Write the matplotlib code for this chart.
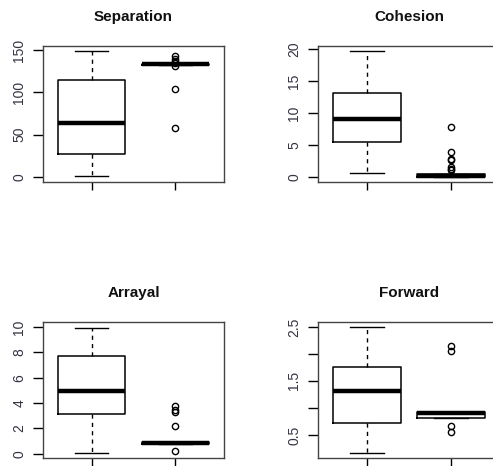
import matplotlib.pyplot as plt
import numpy as np

plt.rcParams['font.family'] = ['Liberation Sans', 'DejaVu Sans']

# titulos de cada panel
titulos = ["Separation", "Cohesion", "Arrayal", "Forward"]

# estadisticos: [grupo1, grupo2]
q1 = [[27, 133], [5.5, 0.05], [3.13, 0.78], [0.72, 0.82]]
mediana = [[63.5, 133.5], [9.05, 0.25], [4.97, 0.85], [1.31, 0.9]]
q3 = [[115, 134], [13.2, 0.45], [7.68, 0.92], [1.75, 0.93]]
bigote_bajo = [[0.8, 133], [0.7, 0.05], [0.05, 0.78], [0.17, 0.82]]
bigote_alto = [[148.8, 134], [19.7, 0.45], [9.9, 0.92], [2.49, 0.93]]
atipicos = [
    [[], [143, 140, 137, 135, 131, 104.5, 58.5]],
    [[], [7.8, 3.9, 2.9, 2.7, 1.6, 1.3, 1.1]],
    [[], [3.73, 3.42, 3.28, 2.2, 0.18]],
    [[], [2.15, 2.06, 0.67, 0.55]],
]

# ticks del eje y
yticks = [[0, 50, 100, 150], [0, 5, 10, 15, 20], [0, 2, 4, 6, 8, 10], [0.5, 1.0, 1.5, 2.0, 2.5]]
yticklabels = [["0", "50", "100", "150"], ["0", "5", "10", "15", "20"],
               ["0", "2", "4", "6", "8", "10"], ["0.5", "", "1.5", "", "2.5"]]
ylims = [(-6, 155), (-0.75, 20.5), (-0.34, 10.4), (0.074, 2.59)]

W, H = 493, 466
fig = plt.figure(figsize=(W / 100, H / 100), dpi=100)

# posiciones en pixeles (izq, arriba, der, abajo)
cajas = [(43, 46, 224, 182), (318, 46, 500, 182), (43, 322, 224, 458), (318, 322, 500, 458)]

colorTexto = "#333344"

for i in range(4):
    x0, y0, x1, y1 = cajas[i]
    ax = fig.add_axes([x0 / W, 1 - y1 / H, (x1 - x0) / W, (y1 - y0) / H])
    stats = []
    for g in range(2):
        stats.append({
            "q1": q1[i][g], "med": mediana[i][g], "q3": q3[i][g],
            "whislo": bigote_bajo[i][g], "whishi": bigote_alto[i][g],
            "fliers": atipicos[i][g],
        })
    ax.bxp(stats, positions=[1, 2], widths=0.8, capwidths=0.4,
           boxprops=dict(color="black", lw=1.1),
           medianprops=dict(color="black", lw=3.2, solid_capstyle="butt"),
           whiskerprops=dict(color="black", lw=1, linestyle=(0, (3, 3))),
           capprops=dict(color="black", lw=1),
           flierprops=dict(marker="o", mfc="none", mec="black", ms=4.5, mew=1))
    ax.set_xlim(0.42, 2.58)
    ax.set_ylim(*ylims[i])
    ax.set_xticks([1, 2])
    ax.set_xticklabels(["", ""])
    ax.set_yticks(yticks[i])
    ax.set_yticklabels(yticklabels[i])
    ax.tick_params(axis="y", length=7, width=1, pad=5, labelrotation=90,
                   labelsize=10, labelcolor=colorTexto)
    ax.tick_params(axis="x", length=6, width=1)
    for lab in ax.get_yticklabels():
        lab.set_va("center")
    for s in ax.spines.values():
        s.set_color("#444444")
        s.set_linewidth(1)
    ax.set_title(titulos[i], fontsize=11, fontweight="bold", pad=18, color="#111111")

fig.savefig("out.png", dpi=100)
